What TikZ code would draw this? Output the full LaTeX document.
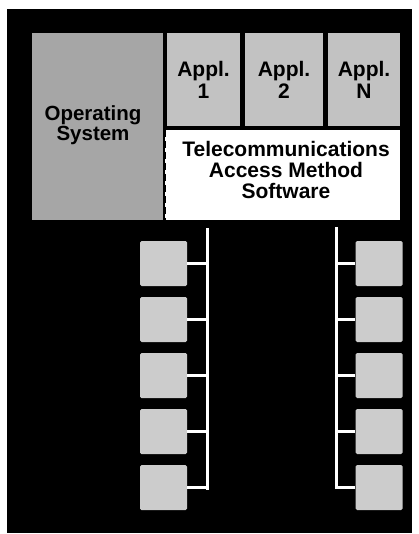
\documentclass[tikz,border=0pt]{standalone}
\usepackage{fontspec}
\setmainfont{Liberation Sans}
\begin{document}
\begin{tikzpicture}[x=1pt,y=-1pt,
  lbl/.style={font=\bfseries\fontsize{20.5}{18.5}\selectfont, align=center, inner sep=0pt, text=black},
  osbox/.style={fill=black!35, draw=none, inner sep=0pt},
  applbox/.style={fill=black!24, draw=none, inner sep=0pt},
  swbox/.style={fill=white, draw=none, inner sep=0pt},
  term/.style={fill=black!20, draw=none, inner sep=0pt, rounded corners=1.5pt,
    minimum width=47pt, minimum height=45pt},
  bus/.style={draw=white, line width=3pt},
  tap/.style={draw=white, line width=3pt},
  sep/.style={draw=black, line width=2.6pt, dash pattern=on 7pt off 4pt}]
\useasboundingbox (0,0) rectangle (419,534);
\fill[white] (0,0) rectangle (419,534);
\fill[black] (7,9) rectangle (412,533);
% host
\node[osbox, minimum width=131pt, minimum height=187pt] (os) at (97.5,126.5) {};
\node[lbl] (ost) at (93,125) {Operating\\System};
\node[applbox, lbl, font=\bfseries\fontsize{21}{22}\selectfont, minimum width=73pt, minimum height=93pt] (a1) at (203.5,79.5) {Appl.\\1};
\node[applbox, lbl, font=\bfseries\fontsize{21}{22}\selectfont, minimum width=78pt, minimum height=93pt] (a2) at (284,79.5) {Appl.\\2};
\node[applbox, lbl, font=\bfseries\fontsize{21}{22}\selectfont, minimum width=72pt, minimum height=93pt] (an) at (364,79.5) {Appl.\\N};
\node[swbox, minimum width=235pt, minimum height=90pt] (tam) at (282.5,175) {};
\node[lbl, font=\bfseries\fontsize{21}{21}\selectfont] (tamt) at (286,170) {Telecommunications\\Access Method\\Software};
\draw[sep] (tam.north west) -- (tam.south west);
% buses
\coordinate (bl0) at (207,228);
\coordinate (bl1) at (207,489.5);
\coordinate (br0) at (336,227);
\coordinate (br1) at (336,488.5);
\draw[bus] (bl0) -- (bl1);
\draw[bus] (br0) -- (br1);
% terminals
\foreach \i/\y in {1/264,2/320,3/376,4/432,5/488}{
  \node[term] (tl\i) at (163.5,\y-0.5) {};
  \node[term] (tr\i) at (379,\y-0.5) {};
  \draw[tap] (tl\i.east) -- (tl\i.east -| bl0);
  \draw[tap] (tr\i.west) -- (tr\i.west -| br0);
}
\end{tikzpicture}
\end{document}
